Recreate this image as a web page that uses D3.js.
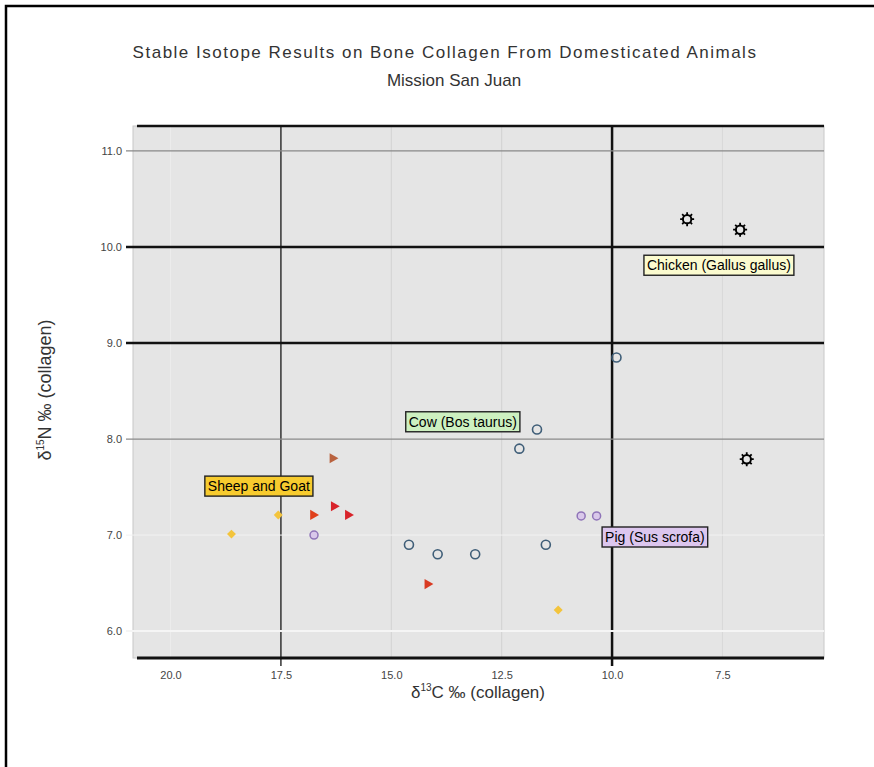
<!DOCTYPE html>
<html>
<head>
<meta charset="utf-8">
<script src="https://cdn.jsdelivr.net/npm/d3@7"></script>
<style>
  body { margin: 0; background: #fff; }
  text { font-family: "Liberation Sans", Arial, sans-serif; }
</style>
</head>
<body>
<div id="chart"></div>
<script>
// values
var xTicks = [20.0, 17.5, 15.0, 12.5, 10.0, 7.5];
var yTicks = [11.0, 10.0, 9.0, 8.0, 7.0, 6.0];

var chickenC = [8.3, 7.1, 6.95];
var chickenN = [10.29, 10.18, 7.79];

var cowC = [11.7, 12.1, 14.6, 13.95, 13.1, 11.5, 9.9];
var cowN = [8.1, 7.9, 6.9, 6.8, 6.8, 6.9, 8.85];

var pigC = [10.7, 10.35, 16.75];
var pigN = [7.2, 7.2, 7.0];

var sheepC = [16.33, 16.3, 16.77, 15.98, 14.18];
var sheepN = [7.8, 7.3, 7.21, 7.21, 6.49];
var goatC = [17.56, 18.62, 11.22];
var goatN = [7.21, 7.01, 6.22];

var labelNames = ["Chicken (Gallus gallus)", "Cow (Bos taurus)", "Pig (Sus scrofa)", "Sheep and Goat"];
var labelC = [7.58, 13.38, 9.03, 18.0];
var labelN = [9.81, 8.18, 6.98, 7.51];

var svgWidth = 874;
var svgHeight = 767;

var panel = { left: 133, right: 824, top: 126, bottom: 658 };

var svg = d3.select("#chart")
    .append("svg")
    .attr("width", svgWidth)
    .attr("height", svgHeight);

// outer frame (runs off the right and bottom of the picture)
svg.append("rect")
    .attr("x", 6).attr("y", 6)
    .attr("width", 1000).attr("height", 1000)
    .attr("fill", "none")
    .attr("stroke", "#000")
    .attr("stroke-width", 2.5);

var x = d3.scaleLinear()
    .domain([20.85, 5.2])
    .range([panel.left, panel.right]);

var y = d3.scaleLinear()
    .domain([5.72, 11.26])
    .range([panel.bottom, panel.top]);

// panel
svg.append("rect")
    .attr("x", panel.left).attr("y", panel.top)
    .attr("width", panel.right - panel.left)
    .attr("height", panel.bottom - panel.top)
    .attr("fill", "#e5e5e5")
    .attr("stroke", "#c8c8c8")
    .attr("stroke-width", 1);

// grid line looks, one per tick
var xGridStyle = [
    { c: "#ececec", w: 1 },
    { c: "#333", w: 1.5 },
    { c: "#d2d2d2", w: 1 },
    { c: "#d2d2d2", w: 1 },
    { c: "#111", w: 2.5 },
    { c: "#d8d8d8", w: 1 }
];
var yGridStyle = [
    { c: "#888", w: 1.2 },
    { c: "#111", w: 2.5 },
    { c: "#111", w: 2.5 },
    { c: "#8a8a8a", w: 1.2 },
    { c: "#f2f2f2", w: 1 },
    { c: "#f5f5f5", w: 2 }
];

svg.append("g").selectAll("line")
    .data(xTicks)
    .enter()
    .append("line")
        .attr("x1", d => x(d)).attr("x2", d => x(d))
        .attr("y1", panel.top).attr("y2", (d, i) => xGridStyle[i].w > 1.2 ? panel.bottom + 8 : panel.bottom)
        .attr("stroke", (d, i) => xGridStyle[i].c)
        .attr("stroke-width", (d, i) => xGridStyle[i].w);

svg.append("g").selectAll("line")
    .data(yTicks)
    .enter()
    .append("line")
        .attr("x1", panel.left - 7).attr("x2", panel.right)
        .attr("y1", d => y(d)).attr("y2", d => y(d))
        .attr("stroke", (d, i) => yGridStyle[i].c)
        .attr("stroke-width", (d, i) => yGridStyle[i].w);

// top border and x axis line
svg.append("line")
    .attr("x1", panel.left + 4).attr("x2", panel.right)
    .attr("y1", panel.top).attr("y2", panel.top)
    .attr("stroke", "#111").attr("stroke-width", 2.5);
svg.append("line")
    .attr("x1", panel.left + 4).attr("x2", panel.right)
    .attr("y1", panel.bottom).attr("y2", panel.bottom)
    .attr("stroke", "#111").attr("stroke-width", 3);

// axes (labels only, lines drawn above)
var xAxis = svg.append("g")
    .attr("transform", `translate(0, ${panel.bottom})`)
    .call(d3.axisBottom(x).tickValues(xTicks).tickFormat(d3.format(".1f")).tickSize(0).tickPadding(13));
var yAxis = svg.append("g")
    .attr("transform", `translate(${panel.left}, 0)`)
    .call(d3.axisLeft(y).tickValues(yTicks).tickFormat(d3.format(".1f")).tickSize(0).tickPadding(11));
[xAxis, yAxis].forEach(function(a) {
    a.select(".domain").remove();
    a.selectAll("text")
        .style("font-family", "'Liberation Sans', Arial, sans-serif")
        .style("font-size", "11px")
        .attr("fill", "#444");
});

// titles
svg.append("text")
    .attr("x", 445).attr("y", 58)
    .attr("text-anchor", "middle")
    .attr("fill", "#333")
    .style("font-size", "17px")
    .style("letter-spacing", "1.5px")
    .text("Stable Isotope Results on Bone Collagen From Domesticated Animals");
svg.append("text")
    .attr("x", 454).attr("y", 86)
    .attr("text-anchor", "middle")
    .attr("fill", "#333")
    .style("font-size", "17px")
    .text("Mission San Juan");

var xTitle = svg.append("text")
    .attr("x", 478).attr("y", 698)
    .attr("text-anchor", "middle")
    .attr("fill", "#333")
    .style("font-size", "17px");
xTitle.append("tspan").text("δ");
xTitle.append("tspan").attr("dy", -7).style("font-size", "10px").text("13");
xTitle.append("tspan").attr("dy", 7).text("C ‰ (collagen)");

var yTitle = svg.append("text")
    .attr("transform", "translate(51, 390) rotate(-90)")
    .attr("text-anchor", "middle")
    .attr("fill", "#333")
    .style("font-size", "18px");
yTitle.append("tspan").text("δ");
yTitle.append("tspan").attr("dy", -7).style("font-size", "10px").text("15");
yTitle.append("tspan").attr("dy", 7).text("N ‰ (collagen)");

// points
var marks = svg.append("g");

// cow: open blue-grey circles
marks.selectAll(".cow")
    .data(d3.zip(cowC, cowN))
    .enter()
    .append("circle")
        .attr("cx", d => x(d[0]))
        .attr("cy", d => y(d[1]))
        .attr("r", 4.5)
        .attr("fill", "none")
        .attr("stroke", "#3f5e78")
        .attr("stroke-width", 1.6);

// pig: small purple circles
marks.selectAll(".pig")
    .data(d3.zip(pigC, pigN))
    .enter()
    .append("circle")
        .attr("cx", d => x(d[0]))
        .attr("cy", d => y(d[1]))
        .attr("r", 4)
        .attr("fill", "#d9c8ea")
        .attr("stroke", "#8f74b8")
        .attr("stroke-width", 1.5);

// goat: yellow diamonds
marks.selectAll(".goat")
    .data(d3.zip(goatC, goatN))
    .enter()
    .append("path")
        .attr("transform", d => `translate(${x(d[0])}, ${y(d[1])}) rotate(45)`)
        .attr("d", d3.symbol(d3.symbolSquare, 40))
        .attr("fill", "#f3c43c");

// sheep: red right-pointing triangles
var sheepColors = ["#b9623f", "#d8232a", "#e0401c", "#d8232a", "#d93a22"];
marks.selectAll(".sheep")
    .data(d3.zip(sheepC, sheepN))
    .enter()
    .append("path")
        .attr("transform", d => `translate(${x(d[0])}, ${y(d[1])}) rotate(90)`)
        .attr("d", d3.symbol(d3.symbolTriangle, 45))
        .attr("fill", (d, i) => sheepColors[i]);

// chicken: black open circles with spikes
var chicken = marks.selectAll(".chicken")
    .data(d3.zip(chickenC, chickenN))
    .enter()
    .append("g")
        .attr("transform", d => `translate(${x(d[0])}, ${y(d[1])})`);
chicken.append("circle")
    .attr("r", 4.2)
    .attr("fill", "none")
    .attr("stroke", "#000")
    .attr("stroke-width", 2);
chicken.append("path")
    .attr("d", d3.range(8).map(function(k) {
        var a = k * Math.PI / 4;
        return "M" + (4 * Math.cos(a)) + "," + (4 * Math.sin(a)) +
               "L" + (7 * Math.cos(a)) + "," + (7 * Math.sin(a));
    }).join(""))
    .attr("stroke", "#000")
    .attr("stroke-width", 1.8);

// labels
var labelFill = ["#fbfbcf", "#cdf0c0", "#dcc6ee", "#f7cb2e"];
var labels = svg.append("g").selectAll("g")
    .data(labelNames)
    .enter()
    .append("g")
        .attr("transform", (d, i) => `translate(${x(labelC[i])}, ${y(labelN[i])})`);
labels.append("text")
    .attr("text-anchor", "middle")
    .attr("dy", "0.35em")
    .attr("fill", "#000")
    .style("font-size", "14px")
    .text(d => d);
labels.each(function(d, i) {
    var g = d3.select(this);
    var bb = g.select("text").node().getBBox();
    g.insert("rect", "text")
        .attr("x", bb.x - 3).attr("y", -10)
        .attr("width", bb.width + 6).attr("height", 20)
        .attr("fill", labelFill[i])
        .attr("stroke", "#222")
        .attr("stroke-width", 1.4);
});
</script>
</body>
</html>
